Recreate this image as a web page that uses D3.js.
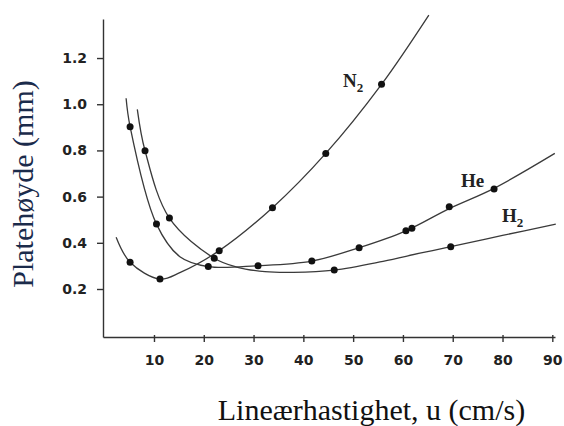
<!DOCTYPE html>
<html>
<head>
<meta charset="utf-8">
<script src="https://cdn.jsdelivr.net/npm/d3@7"></script>
<style>
  html, body { margin: 0; padding: 0; background: #fff; }
  svg { display: block; }
  .tick text { font-family: "DejaVu Sans", Verdana, sans-serif; font-weight: bold; font-size: 14px; fill: #222; }
  .axis path, .axis line { stroke: #333; stroke-width: 1.4; }
</style>
</head>
<body>
<svg id="chart" width="564" height="426"></svg>
<script>
// Van Deemter curves: plate height vs. linear carrier-gas velocity

const xTicks = [10, 20, 30, 40, 50, 60, 70, 80, 90];
const yTicks = [0.2, 0.4, 0.6, 0.8, 1.0, 1.2];

// Measured points [u (cm/s), H (mm)]
const n2Points = [[5.2, 0.316], [11.2, 0.243], [23.1, 0.366], [33.8, 0.552], [44.5, 0.787], [55.7, 1.086]];
const hePoints = [[5.2, 0.903], [10.5, 0.481], [20.9, 0.297], [30.9, 0.301], [41.7, 0.321], [51.2, 0.379],
                  [60.6, 0.452], [61.8, 0.463], [69.3, 0.556], [78.3, 0.633]];
const h2Points = [[8.2, 0.799], [13.1, 0.507], [22.1, 0.333], [46.2, 0.282], [69.6, 0.383]];

// Fitted curves [u, H]
const n2Curve = [[2.4, 0.424], [5.2, 0.316], [11.2, 0.243], [15.3, 0.272], [23.1, 0.366], [33.8, 0.552],
                 [44.5, 0.787], [55.7, 1.086], [65.2, 1.386]];
const heCurve = [[4.4, 1.026], [5.2, 0.903], [10.5, 0.481], [15.2, 0.340], [20.9, 0.297], [30.9, 0.301],
                 [41.7, 0.321], [51.2, 0.379], [60.6, 0.452], [69.3, 0.548], [78.3, 0.636], [90.5, 0.787]];
const h2Curve = [[6.65, 0.978], [8.2, 0.799], [13.1, 0.507], [22.1, 0.333], [26.6, 0.295], [32.3, 0.275],
                 [38.0, 0.272], [46.2, 0.282], [56.0, 0.320], [63.4, 0.355], [69.6, 0.383], [80.0, 0.432],
                 [90.7, 0.481]];

const seriesLabels = [
  { name: "N", sub: "2", x: 343, y: 87 },
  { name: "He", sub: "", x: 461, y: 187 },
  { name: "H", sub: "2", x: 502, y: 222 }
];

const svg = d3.select("#chart");

const x = d3.scaleLinear().domain([-0.24, 90.54]).range([103, 555]);
const y = d3.scaleLinear().domain([-0.0078, 1.369]).range([337, 19]);

// Axes
const yAxis = svg.append("g")
  .attr("class", "axis")
  .attr("transform", `translate(${x(-0.24)},0)`)
  .call(d3.axisLeft(y).tickValues(yTicks).tickFormat(d3.format(".1f"))
    .tickSize(6).tickSizeOuter(0).tickPadding(10));

const xAxis = svg.append("g")
  .attr("class", "axis")
  .attr("transform", `translate(0,${y(-0.0078)})`)
  .call(d3.axisBottom(x).tickValues(xTicks).tickFormat(d3.format("d"))
    .tickSize(5).tickSizeOuter(0).tickPadding(13));
xAxis.selectAll(".tick line").attr("y1", -2);

// Curves
const line = d3.line()
  .x(d => x(d[0]))
  .y(d => y(d[1]))
  .curve(d3.curveCatmullRom.alpha(0.5));

[n2Curve, heCurve, h2Curve].forEach(c => {
  svg.append("path")
    .datum(c)
    .attr("d", line)
    .attr("fill", "none")
    .attr("stroke", "#3a3a3a")
    .attr("stroke-width", 1.3);
});

// Data points
[n2Points, hePoints, h2Points].forEach(p => {
  svg.append("g").selectAll("circle")
    .data(p)
    .join("circle")
    .attr("cx", d => x(d[0]))
    .attr("cy", d => y(d[1]))
    .attr("r", 3.5)
    .attr("fill", "#111");
});

// Series labels
seriesLabels.forEach(s => {
  const t = svg.append("text")
    .attr("x", s.x)
    .attr("y", s.y)
    .attr("font-family", "'Liberation Serif', 'Times New Roman', serif")
    .attr("font-weight", "bold")
    .attr("font-size", 19)
    .attr("fill", "#222")
    .text(s.name);
  if (s.sub) {
    t.append("tspan")
      .attr("font-size", 13)
      .attr("dy", 5)
      .text(s.sub);
  }
});

// Axis titles
svg.append("text")
  .attr("x", 371.5)
  .attr("y", 420)
  .attr("text-anchor", "middle")
  .attr("font-family", "'Liberation Serif', 'Times New Roman', serif")
  .attr("font-size", 30)
  .attr("fill", "#111")
  .text("Lineærhastighet, u (cm/s)");

svg.append("text")
  .attr("transform", "translate(33,184) rotate(-90)")
  .attr("text-anchor", "middle")
  .attr("font-family", "'Liberation Serif', 'Times New Roman', serif")
  .attr("font-size", 30)
  .attr("fill", "#1b2b4b")
  .text("Platehøyde (mm)");
</script>
</body>
</html>
